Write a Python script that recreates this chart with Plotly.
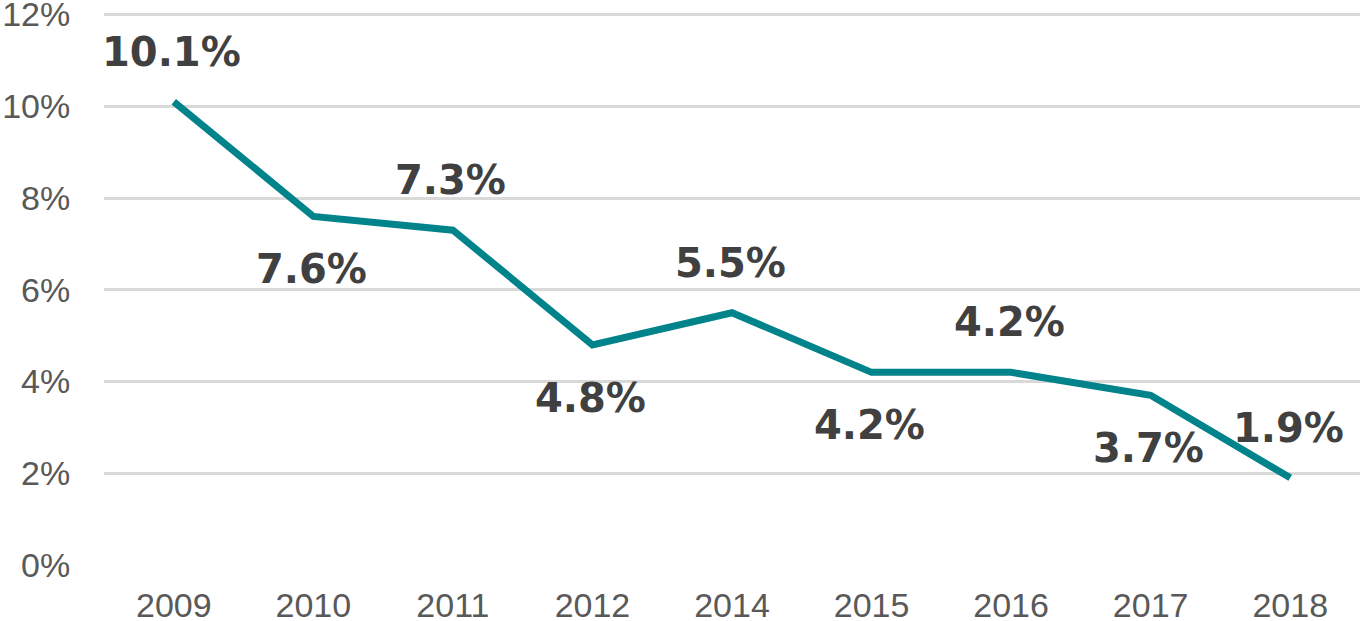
import plotly.graph_objects as go

# data
years = ["2009", "2010", "2011", "2012", "2014", "2015", "2016", "2017", "2018"]
rates = [10.1, 7.6, 7.3, 4.8, 5.5, 4.2, 4.2, 3.7, 1.9]
labels = ["10.1%", "7.6%", "7.3%", "4.8%", "5.5%", "4.2%", "4.2%", "3.7%", "1.9%"]
y_ticks = [0, 2, 4, 6, 8, 10, 12]
y_ticktext = ["0%", "2%", "4%", "6%", "8%", "10%", "12%"]

# which side of the line each label sits on
label_side = ["up", "down", "up", "down", "up", "down", "up", "down", "up"]

fig = go.Figure()
fig.add_trace(go.Scatter(
    x=years, y=rates, mode="lines",
    line=dict(color="#00838A", width=7),
    hoverinfo="skip", showlegend=False, cliponaxis=False))

# annotation x on a category axis: use the category index, "2009" would be read as a number
for i, (v, txt, side) in enumerate(zip(rates, labels, label_side)):
    fig.add_annotation(
        x=i, y=v, text=txt, showarrow=False,
        xshift=-2, yshift=50 if side == "up" else -53,
        font=dict(family="DejaVu Sans", size=40, color="#404040", weight="bold"))

fig.update_layout(
    width=1360, height=621,
    margin=dict(l=104, r=0, t=10, b=56, autoexpand=False),
    paper_bgcolor="white", plot_bgcolor="white",
    font=dict(family="Liberation Sans, Arial", size=34, color="#595959"),
)
# white ticks stand in for the gap between labels and plot
fig.update_xaxes(
    type="category", range=[-0.5, 8.5], showgrid=False, showline=False,
    zeroline=False, ticks="outside", ticklen=10, tickcolor="white",
    tickfont=dict(size=34, color="#595959"))
# a little headroom above 12 so its gridline is drawn
fig.update_yaxes(
    range=[0, 12.1], tickvals=y_ticks, ticktext=y_ticktext,
    showgrid=True, gridcolor="#D9D9D9", gridwidth=3,
    zeroline=False, showline=False, ticks="outside", ticklen=26,
    tickcolor="white", ticklabeloverflow="allow",
    tickfont=dict(size=34, color="#595959"))

# drop the default 8px body margin so the figure sits at the window corner
fig.write_html("out.html", config={"displayModeBar": False},
               post_script="document.body.style.margin='0';")
